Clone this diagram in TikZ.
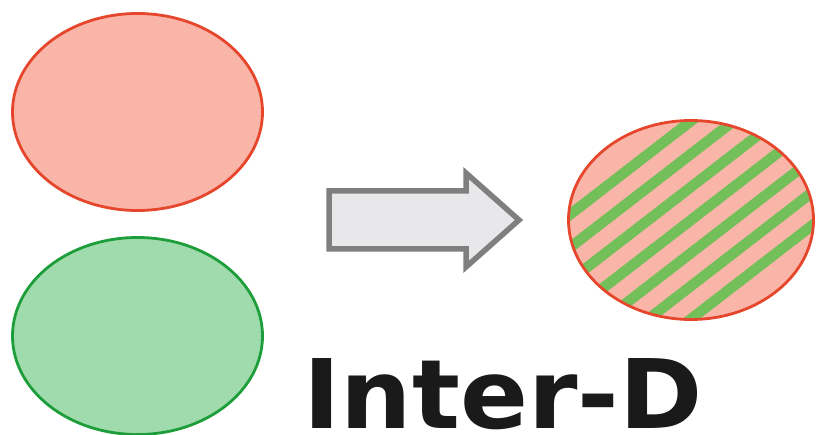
\documentclass[tikz,border=0pt]{standalone}
\usepackage{fontspec}
\usepackage{graphicx}
\newfontfamily\labelfont{DejaVu Sans}
\usetikzlibrary{shapes.geometric,calc}

\definecolor{redfill}{HTML}{F9B5A8}
\definecolor{redline}{HTML}{E5462C}
\definecolor{greenfill}{HTML}{A0DBAE}
\definecolor{greenline}{HTML}{1E9E3A}
\definecolor{stripe}{HTML}{73BF5A}
\definecolor{arrowfill}{HTML}{E8E8EA}
\definecolor{arrowline}{HTML}{7F7F7F}
\definecolor{ink}{HTML}{1A1A1A}

\tikzset{
  blob/.style={ellipse, inner sep=0pt, line width=2.8pt,
               minimum width=250pt, minimum height=197pt},
  redset/.style={blob, draw=redline, fill=redfill},
  greenset/.style={blob, draw=greenline, fill=greenfill},
  stripeline/.style={stripe, line width=10.5pt},
  bigarrow/.style={draw=arrowline, fill=arrowfill, line width=5.5pt, line join=miter},
  title/.style={font=\labelfont\bfseries\fontsize{96}{96}\selectfont, text=ink, inner sep=0pt}
}

\begin{document}
\begin{tikzpicture}[x=1pt,y=-1pt]
\useasboundingbox (0,0) rectangle (817,435);

% the two input sets
\node[redset] (setA) at (137.5,112) {};
\node[greenset] (setB) at (137.5,336) {};

% transformation arrow
\draw[bigarrow] (329,191) -- (466,191) -- (466,173) -- (519,220)
  -- (466,267) -- (466,249) -- (329,249) -- cycle;

% combined set: red base with green hatching
\node[blob, fill=redfill, minimum width=245pt, minimum height=199pt] (mix) at (691,220) {};
\begin{scope}
  \clip (mix.center) ellipse [x radius=122.5pt, y radius=99.5pt];
  \foreach \k in {-3,...,3} {
    \draw[stripeline] ($(mix.center)+(-200,{33*\k+154.6})$) -- ($(mix.center)+(200,{33*\k-154.6})$);
  }
\end{scope}
\draw[redline, line width=2.8pt] (mix.center) ellipse [x radius=122.5pt, y radius=99.5pt];

\node[title, anchor=base] (label) at (503,429) {\scalebox{1.045}[1]{Inter-D}};
\end{tikzpicture}
\end{document}
